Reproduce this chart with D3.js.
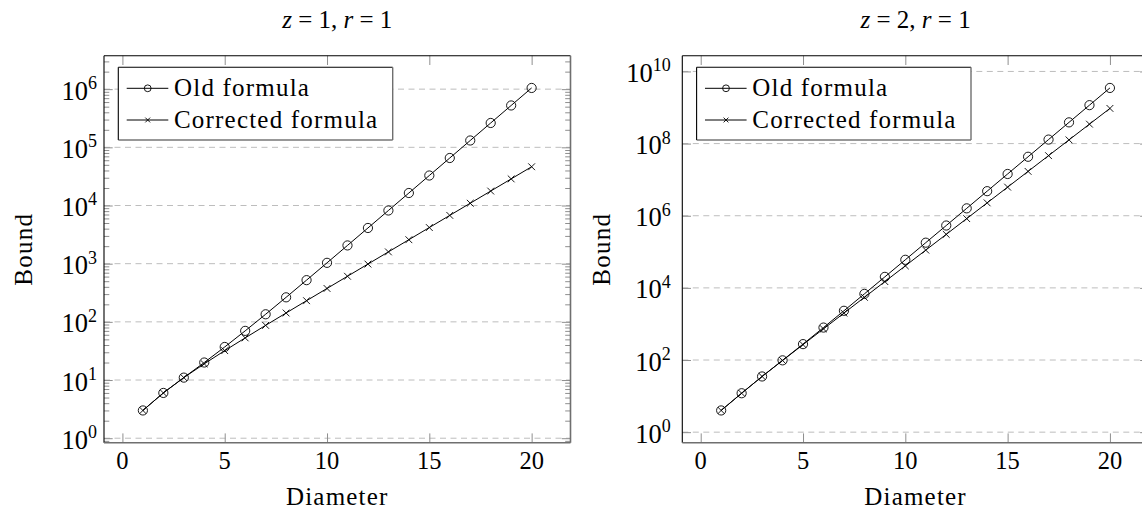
<!DOCTYPE html>
<html><head><meta charset="utf-8">
<script src="https://cdn.jsdelivr.net/npm/d3@7"></script>
<style>
body{margin:0;background:#fff}
svg{display:block}
text{font-family:"Liberation Serif","Times New Roman",serif;fill:#000}
</style>
</head><body>
<svg id="c" width="1142" height="509"></svg>
<script>
// ---- data ----
const diameter = [1,2,3,4,5,6,7,8,9,10,11,12,13,14,15,16,17,18,19,20];
const oldZ1 = [3,6,11,20,37,70,135,264,521,1034,2059,4108,8205,16398,32783,65552,131089,262162,524307,1048596];
const corrZ1 = [3,6,11,19,32,53,87,142,231,375,608,985,1595,2582,4179,6763,10944,17709,28655,46366];
const oldZ2 = [4,12,35,98,276,794,2316,6818,20196,60074,179195,535537,1602515,4799353,14381675,43112257,129271235,387682634,1162785755,3487832978];
const corrZ2 = [4,12,35,97,267,731,1999,5463,14927,40783,111423,304415,831679,2272191,6207743,16959871,46335231,126590207,345850879,944882175];
const xTickValues = [0,5,10,15,20];
const yExpZ1 = [0,1,2,3,4,5,6];
const yExpZ2 = [0,2,4,6,8,10];
const titleZ = ["1","2"];
const titleR = ["1","1"];
const seriesNames = ["Old formula","Corrected formula"];
const xLabel = "Diameter";
const yLabel = "Bound";

const svg = d3.select("#c");
const W = 466.5, H = 387;

function panel(left, top, oldV, corrV, yExp, zTxt, rTxt, minor, labelGap) {
  const g = svg.append("g").attr("transform", `translate(${left},${top})`);
  const xe = d3.extent(diameter), xr = xe[1]-xe[0];
  const x = d3.scaleLinear().domain([xe[0]-0.1*xr, xe[1]+0.1*xr]).range([0, W]);
  const all = oldV.concat(corrV);
  const lo = Math.log10(d3.min(all)), hi = Math.log10(d3.max(all)), lr = hi-lo;
  const y = d3.scaleLog().domain([Math.pow(10, lo-0.1*lr), Math.pow(10, hi+0.1*lr)]).range([H, 0]);

  // grid
  g.selectAll(".grid").data(yExp).enter().append("line")
    .attr("x1", 0).attr("x2", W)
    .attr("y1", e => y(Math.pow(10,e))).attr("y2", e => y(Math.pow(10,e)))
    .attr("stroke", "#bdbdbd").attr("stroke-width", 1).attr("stroke-dasharray", "6 4.5");

  const tickCol = "#8f8f8f";
  // x ticks bottom & top (inward)
  g.append("g").attr("transform", `translate(0,${H})`)
    .call(d3.axisBottom(x).tickValues(xTickValues).tickSize(-9.3).tickFormat(""))
    .call(a => { a.select(".domain").remove(); a.selectAll("line").attr("stroke", tickCol); });
  g.append("g")
    .call(d3.axisTop(x).tickValues(xTickValues).tickSize(-9.3).tickFormat(""))
    .call(a => { a.select(".domain").remove(); a.selectAll("line").attr("stroke", tickCol); });
  // y major ticks left & right
  const yMaj = yExp.map(e => Math.pow(10,e));
  g.append("g")
    .call(d3.axisLeft(y).tickValues(yMaj).tickSize(-8.7).tickFormat(""))
    .call(a => { a.select(".domain").remove(); a.selectAll("line").attr("stroke", tickCol); });
  g.append("g").attr("transform", `translate(${W},0)`)
    .call(d3.axisRight(y).tickValues(yMaj).tickSize(-8.7).tickFormat(""))
    .call(a => { a.select(".domain").remove(); a.selectAll("line").attr("stroke", tickCol); });
  if (minor) {
    const mins = y.ticks().filter(v => Math.abs(Math.log10(v) - Math.round(Math.log10(v))) > 1e-9);
    g.append("g")
      .call(d3.axisLeft(y).tickValues(mins).tickSize(-5.3).tickFormat(""))
      .call(a => { a.select(".domain").remove(); a.selectAll("line").attr("stroke", tickCol); });
    g.append("g").attr("transform", `translate(${W},0)`)
      .call(d3.axisRight(y).tickValues(mins).tickSize(-5.3).tickFormat(""))
      .call(a => { a.select(".domain").remove(); a.selectAll("line").attr("stroke", tickCol); });
  }

  // frame
  g.append("line").attr("x1",0).attr("x2",W).attr("y1",0).attr("y2",0).attr("stroke","#000").attr("stroke-width",1.1);
  g.append("line").attr("x1",0).attr("x2",0).attr("y1",0).attr("y2",H).attr("stroke","#000").attr("stroke-width",1.1);
  g.append("line").attr("x1",0).attr("x2",W).attr("y1",H).attr("y2",H).attr("stroke","#6f6f6f").attr("stroke-width",1.6);
  g.append("line").attr("x1",W).attr("x2",W).attr("y1",0).attr("y2",H).attr("stroke","#6f6f6f").attr("stroke-width",1.6);

  // x tick labels
  g.selectAll(".xl").data(xTickValues).enter().append("text")
    .attr("x", d => x(d)).attr("y", H+26.3).attr("text-anchor","middle")
    .attr("font-size", 24.5).text(d => d);
  // y tick labels
  yExp.forEach(e => {
    const t = g.append("text").attr("x", -labelGap).attr("y", y(Math.pow(10,e)) + 10.5)
      .attr("text-anchor","end").attr("font-size", 26.5);
    t.append("tspan").text("10");
    t.append("tspan").attr("font-size", 18).attr("dy", -10.5).text(e);
  });

  // axis labels
  g.append("text").attr("x", W/2).attr("y", H+62.3).attr("text-anchor","middle")
    .attr("font-size", 25).attr("letter-spacing", 1.2).text(xLabel);
  g.append("text").attr("transform", `translate(-72.5,${H/2}) rotate(-90)`).attr("text-anchor","middle")
    .attr("font-size", 25).attr("letter-spacing", 1.3).text(yLabel);

  // title
  const tt = g.append("text").attr("x", W/2).attr("y", -27.4).attr("text-anchor","middle").attr("font-size", 25);
  tt.append("tspan").attr("font-style","italic").text("z");
  tt.append("tspan").text(" = " + zTxt + ", ");
  tt.append("tspan").attr("font-style","italic").text("r");
  tt.append("tspan").text(" = " + rTxt);

  // lines
  const line = d3.line().x((d,i) => x(diameter[i])).y(d => y(d));
  [oldV, corrV].forEach(s => {
    g.append("path").datum(s).attr("d", line).attr("fill","none").attr("stroke","#000").attr("stroke-width",1);
  });
  // markers: circles for old
  g.selectAll(".mo").data(oldV).enter().append("circle")
    .attr("cx", (d,i) => x(diameter[i])).attr("cy", d => y(d)).attr("r", 4.6)
    .attr("fill","none").attr("stroke","#000").attr("stroke-width",0.9);
  // crosses for corrected
  const cs = 3.4;
  g.selectAll(".mc").data(corrV).enter().append("path")
    .attr("d", (d,i) => { const cx = x(diameter[i]), cy = y(d);
      return `M${cx-cs},${cy-cs}L${cx+cs},${cy+cs}M${cx-cs},${cy+cs}L${cx+cs},${cy-cs}`; })
    .attr("fill","none").attr("stroke","#000").attr("stroke-width",0.9);

  // legend
  const lg = g.append("g").attr("transform","translate(14.3,11.6)");
  const lw = 274.4, lh = 72.7;
  lg.append("rect").attr("width", lw).attr("height", lh).attr("fill","#fff").attr("stroke","none");
  lg.append("line").attr("x1",0).attr("x2",lw).attr("y1",0).attr("y2",0).attr("stroke","#000").attr("stroke-width",1.1);
  lg.append("line").attr("x1",0).attr("x2",0).attr("y1",0).attr("y2",lh).attr("stroke","#000").attr("stroke-width",1.1);
  lg.append("line").attr("x1",0).attr("x2",lw).attr("y1",lh).attr("y2",lh).attr("stroke","#333").attr("stroke-width",1.2);
  lg.append("line").attr("x1",lw).attr("x2",lw).attr("y1",0).attr("y2",lh).attr("stroke","#6f6f6f").attr("stroke-width",1.4);
  const rows = [21, 52.7];
  seriesNames.forEach((name, i) => {
    const ry = rows[i];
    lg.append("line").attr("x1", 8.4).attr("x2", 50).attr("y1", ry).attr("y2", ry).attr("stroke","#000").attr("stroke-width",1);
    if (i === 0) {
      lg.append("circle").attr("cx", 29.4).attr("cy", ry).attr("r", 3.4).attr("fill","none").attr("stroke","#000").attr("stroke-width",0.9);
    } else {
      const s = 2.4, cx = 29.4;
      lg.append("path").attr("d", `M${cx-s},${ry-s}L${cx+s},${ry+s}M${cx-s},${ry+s}L${cx+s},${ry-s}`)
        .attr("stroke","#000").attr("stroke-width",0.9).attr("fill","none");
    }
    lg.append("text").attr("x", 55.7).attr("y", ry + 7.8).attr("font-size", 25).attr("letter-spacing", 1.2).text(name);
  });
}

panel(104, 55.7, oldZ1, corrZ1, yExpZ1, titleZ[0], titleR[0], true, 7);
panel(682.3, 55.7, oldZ2, corrZ2, yExpZ2, titleZ[1], titleR[1], false, 11.5);
</script>
</body></html>
